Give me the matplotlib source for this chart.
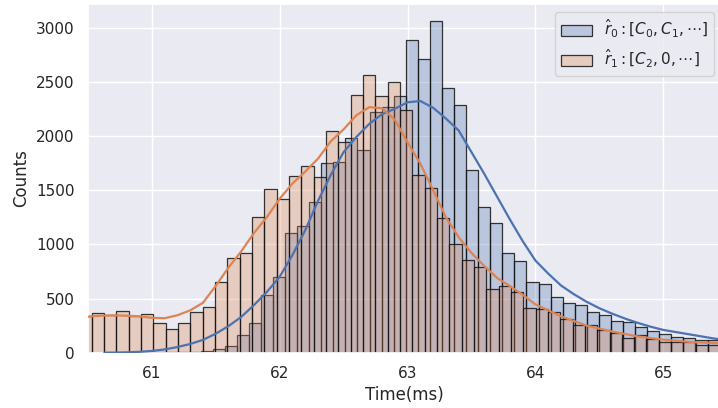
import numpy as np
import matplotlib
matplotlib.use("Agg")
import matplotlib.pyplot as plt
import seaborn as sns

# ---------------- data ----------------
# histogram of r0 (blue): first bin edge and bin width in ms, counts per bin
r0_first_edge = 60.6271
r0_bin_width = 0.09437
r0_counts = [0, 0, 2, 3, 4, 5, 5, 6, 15, 37, 60, 160, 274, 529, 698, 1101,
             1166, 1393, 1753, 1762, 1983, 1867, 2221, 2269, 2371, 2885,
             2706, 3062, 2439, 2287, 1685, 1344, 1200, 923, 849, 651, 632,
             518, 456, 444, 371, 345, 288, 286, 233, 197, 177, 143, 133,
             115, 119]

# histogram of r1 (orange)
r1_first_edge = 60.4339
r1_bin_width = 0.0964
r1_counts = [339, 363, 348, 385, 341, 360, 277, 221, 271, 373, 424, 649,
             878, 923, 1255, 1507, 1415, 1630, 1722, 1618, 2048, 1941, 2377,
             2560, 2370, 2498, 2235, 1642, 1522, 1247, 1001, 855, 793, 585,
             615, 560, 415, 400, 375, 308, 256, 255, 205, 180, 135, 165, 130,
             95, 95, 100, 72, 75]

# density curves (counts scale), sampled along time
r0_kde_t = [60.63, 60.7, 60.8, 60.9, 61.0, 61.1, 61.2, 61.3, 61.4, 61.5,
            61.6, 61.7, 61.8, 61.9, 62.0, 62.1, 62.2, 62.3, 62.4, 62.5,
            62.6, 62.7, 62.8, 62.9, 63.0, 63.1, 63.2, 63.3, 63.4, 63.5,
            63.6, 63.7, 63.8, 63.9, 64.0, 64.1, 64.2, 64.3, 64.4, 64.5,
            64.6, 64.7, 64.8, 64.9, 65.0, 65.1, 65.2, 65.3, 65.4, 65.5]
r0_kde_v = [0, 1, 3, 8, 16, 30, 52, 80, 118, 175,
            245, 330, 440, 560, 700, 900, 1130, 1400, 1640, 1850,
            1990, 2110, 2200, 2250, 2310, 2322, 2260, 2160, 2050, 1850,
            1650, 1440, 1230, 1030, 850, 730, 620, 540, 470, 410,
            360, 315, 275, 240, 210, 190, 170, 150, 130, 117]

r1_kde_t = [60.5, 60.6, 60.7, 60.8, 60.9, 61.0, 61.1, 61.2, 61.3, 61.4,
            61.5, 61.6, 61.7, 61.8, 61.9, 62.0, 62.1, 62.2, 62.3, 62.4,
            62.5, 62.6, 62.7, 62.8, 62.9, 63.0, 63.1, 63.2, 63.3, 63.4,
            63.5, 63.6, 63.7, 63.8, 63.9, 64.0, 64.2, 64.4, 64.6, 64.8,
            65.0, 65.2, 65.4, 65.5]
r1_kde_v = [332, 341, 345, 341, 336, 322, 318, 345, 390, 460,
            615, 785, 935, 1105, 1250, 1420, 1560, 1670, 1790, 1950,
            2060, 2190, 2265, 2255, 2150, 1940, 1745, 1500, 1250, 1065,
            920, 800, 690, 615, 535, 446, 335, 250, 195, 150,
            120, 100, 88, 85]

labels = [r'$\hat{r}_0: [C_0, C_1, \cdots]$', r'$\hat{r}_1: [C_2, 0, \cdots]$']
x_ticks = [61, 62, 63, 64, 65]
x_range = (60.5, 65.457)

# ---------------- plotting ----------------
sns.set_theme(style="darkgrid", context="notebook")
blue, orange = sns.color_palette()[0], sns.color_palette()[1]

fig = plt.figure(figsize=(7.18, 4.08), dpi=100)
ax = fig.add_axes([87.75 / 718, 55.3 / 408, (721.8 - 87.75) / 718, (403.8 - 55.3) / 408])

edge = (0.08, 0.08, 0.08, 0.85)
for first, width, counts, color, lab in [
        (r0_first_edge, r0_bin_width, r0_counts, blue, labels[0]),
        (r1_first_edge, r1_bin_width, r1_counts, orange, labels[1])]:
    n = len(counts)
    edges = first + width * np.arange(n + 1)
    ax.hist(edges[:-1], bins=edges, weights=counts,
            facecolor=(*color, 0.3), edgecolor=edge, linewidth=0.9,
            label=lab, zorder=2)

ax.plot(r0_kde_t, r0_kde_v, color=blue, lw=1.6, zorder=3)
ax.plot(r1_kde_t, r1_kde_v, color=orange, lw=1.6, zorder=3)

ax.set_xlim(*x_range)
ax.set_xticks(x_ticks)
ax.set_xlabel("Time(ms)")
ax.set_ylabel("Counts")
ax.legend(loc="upper right")

fig.savefig("out.png", dpi=100)
